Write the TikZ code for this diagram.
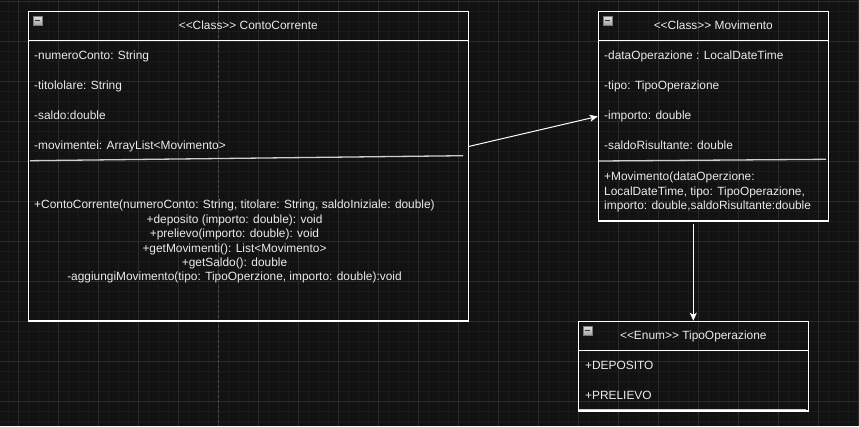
\documentclass[tikz,border=0pt]{standalone}
\usepackage{fontspec}
\setmainfont{Liberation Sans}
\usetikzlibrary{arrows.meta,calc}
\definecolor{bg}{HTML}{121212}
\definecolor{minorg}{HTML}{1A1A1A}
\definecolor{majorg}{HTML}{2B2B2B}
\definecolor{pageline}{HTML}{474747}
\definecolor{txt}{HTML}{EBEBEB}
\definecolor{sepc}{HTML}{CFCFCF}
\definecolor{iconBorder}{HTML}{7A7A7A}
\definecolor{iconMinus}{HTML}{333333}
\definecolor{iconTop}{HTML}{E2E2E2}
\definecolor{iconBot}{HTML}{A4A4A4}
\newcommand{\lt}{\textless\kern0pt}
\newcommand{\gt}{\textgreater\kern0pt}
\tikzset{
  umlbox/.style={draw=white, line width=1.2pt, rectangle, inner sep=0pt},
  boxline/.style={draw=white, line width=1.2pt},
  sepline/.style={draw=sepc, line width=1.3pt},
  lbl/.style={font=\fontsize{11.9pt}{14pt}\selectfont, text=txt, inner sep=0pt},
  lblw/.style={lbl, anchor=base west},
  lblc/.style={lbl, anchor=base},
  icon/.style={rectangle, draw=iconBorder, minimum size=9pt, inner sep=0pt, top color=iconTop, bottom color=iconBot},
  minus/.style={draw=iconMinus, line width=1.4pt},
  arr/.style={draw=white, line width=1pt, -{Stealth[length=8pt,width=7pt,inset=2pt]}},
}
\begin{document}
\begin{tikzpicture}[x=1pt,y=-1pt]
\useasboundingbox (0,0) rectangle (859,426);
\fill[bg] (0,0) rectangle (859,426);
% minor grid
\foreach \i in {0,...,85} { \draw[minorg, line width=0.6pt] ({8.2+10*\i},0) -- ({8.2+10*\i},426); }
\foreach \j in {0,...,42} { \draw[minorg, line width=0.6pt] (0,{1.3+10*\j}) -- (859,{1.3+10*\j}); }
% major grid
\foreach \i in {0,...,21} { \draw[majorg, line width=0.8pt] ({18.2+40*\i},0) -- ({18.2+40*\i},426); }
\foreach \j in {0,...,10} { \draw[majorg, line width=0.8pt] (0,{1.3+40*\j}) -- (859,{1.3+40*\j}); }
% page break line
\draw[pageline, line width=0.8pt, dash pattern=on 3pt off 2pt] (218.2,0) -- (218.2,426);

% ===== ContoCorrente =====
\node[umlbox, minimum width=440pt, minimum height=309.7pt] (cc) at (248.3,166.15) {};
\draw[boxline] ($(cc.north west)+(0,30)$) -- ($(cc.north east)+(0,30)$);
\node[icon] (ccicon) at (37.5,20.5) {};
\draw[minus] ($(ccicon.center)+(-2.6,0)$) -- ($(ccicon.center)+(2.6,0)$);
\node[lblc] (cchead) at (248.3,29.8) {\lt\lt Class\gt\gt{} ContoCorrente};
\node[lblw] (ccA1) at (34,59.5) {-numeroConto: String};
\node[lblw] (ccA2) at (34,89.5) {-titololare: String};
\node[lblw] (ccA3) at (34,119.5) {-saldo:double};
\node[lblw] (ccA4) at (34,149.5) {-movimentei: ArrayList\lt Movimento\gt};
\draw[sepline] (30,160.7) -- (463,155.7);
\node[lblc] (ccM1) at (234.5,208.5) {+ContoCorrente(numeroConto: String, titolare: String, saldoIniziale: double)};
\node[lblc] (ccM2) at (234.5,223.3) {+deposito (importo: double): void};
\node[lblc] (ccM3) at (234.5,237.3) {+prelievo(importo: double): void};
\node[lblc] (ccM4) at (234.5,252.3) {+getMovimenti(): List\lt Movimento\gt};
\node[lblc] (ccM5) at (234.5,266.7) {+getSaldo(): double};
\node[lblc] (ccM6) at (234.5,280.7) {-aggiungiMovimento(tipo: TipoOperzione, importo: double):void};

% ===== Movimento =====
\node[umlbox, minimum width=230pt, minimum height=209.7pt] (mv) at (713.3,116.15) {};
\draw[boxline] ($(mv.north west)+(0,30)$) -- ($(mv.north east)+(0,30)$);
\node[icon] (mvicon) at (607.5,20.5) {};
\draw[minus] ($(mvicon.center)+(-2.6,0)$) -- ($(mvicon.center)+(2.6,0)$);
\node[lblc] (mvhead) at (713.3,29.8) {\lt\lt Class\gt\gt{} Movimento};
\node[lblw] (mvA1) at (604,59.5) {-dataOperazione : LocalDateTime};
\node[lblw] (mvA2) at (604,89.5) {-tipo: TipoOperazione};
\node[lblw] (mvA3) at (604,119.5) {-importo: double};
\node[lblw] (mvA4) at (604,149.5) {-saldoRisultante: double};
\draw[sepline] (599,161) -- (826,159.3);
\node[lblw] (mvM1) at (604,180.7) {+Movimento(dataOperzione:};
\node[lblw] (mvM2) at (604,195) {LocalDateTime, tipo: TipoOperazione,};
\node[lblw] (mvM3) at (604,209.3) {importo: double,saldoRisultante:double};

% ===== TipoOperazione =====
\node[umlbox, minimum width=230pt, minimum height=89.7pt] (en) at (693.3,366.15) {};
\draw[boxline] ($(en.north west)+(0,30)$) -- ($(en.north east)+(0,30)$);
\node[icon] (enicon) at (587.5,330.5) {};
\draw[minus] ($(enicon.center)+(-2.6,0)$) -- ($(enicon.center)+(2.6,0)$);
\node[lblc] (enhead) at (693.3,339.7) {\lt\lt Enum\gt\gt{} TipoOperazione};
\node[lblw] (enA1) at (585,369.7) {+DEPOSITO};
\node[lblw] (enA2) at (585,399.7) {+PRELIEVO};
\draw[sepline] (579,409.8) -- (806,409.8);

% ===== connectors =====
\draw[arr] (cc.east |- ccA4) -- (mv.west |- mvA3);
\draw[arr] ([yshift=-2.5pt]en.north |- mv.south) -- (en.north);
\end{tikzpicture}
\end{document}
